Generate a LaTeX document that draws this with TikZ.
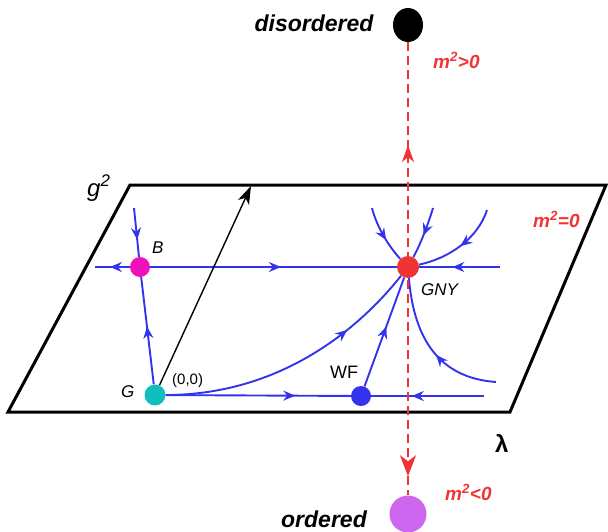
\documentclass[tikz,border=0pt]{standalone}
\usepackage{fontspec}
\setmainfont{Liberation Sans}
\usetikzlibrary{arrows.meta,decorations.markings,shapes.geometric,backgrounds}
\definecolor{fblue}{RGB}{51,51,238}
\definecolor{cR}{RGB}{240,52,52}
\definecolor{cB}{RGB}{238,17,187}
\definecolor{cG}{RGB}{17,190,190}
\definecolor{cV}{RGB}{204,102,238}
\newcommand\myfs[1]{\fontsize{#1}{#1}\selectfont}
\tikzset{
  flow/.style={draw=fblue, line width=1.9pt},
  marr/.style={postaction={decorate,decoration={markings,mark=at position #1 with {\arrow{Stealth[length=12pt,width=10pt,inset=4pt]}}}}},
  dot/.style={circle, inner sep=0pt, minimum size=#1},
  plane/.style={draw=black, line width=3pt},
  lbl/.style={inner sep=0pt, font=\myfs{#1}},
  mlbl/.style={inner sep=0pt, text=cR, font=\myfs{19}\bfseries\itshape, anchor=base west}
}
\begin{document}
\begin{tikzpicture}[x=1pt,y=-1pt]
\useasboundingbox (0,0) rectangle (608,531);
% dots
\node[dot=20pt, fill=cB] (B) at (140,267) {};
\node[dot=21pt, fill=cG] (G) at (155,395) {};
\node[dot=22pt, fill=cR] (GNY) at (408,267) {};
\node[dot=20pt, fill=fblue] (WF) at (361,396) {};
\node[ellipse, minimum width=30pt, minimum height=34pt, inner sep=0pt, fill=black] (dis) at (408,25) {};
\node[dot=37pt, fill=cV] (ord) at (408,514) {};
% coordinates
\coordinate (pA) at (8,412);
\coordinate (pB) at (130,185);
\coordinate (pC) at (606,185);
\coordinate (pD) at (510,412);
\coordinate (bl) at (95,267);
\coordinate (bt) at (134,208);
\coordinate (gr) at (500,267);
\coordinate (wr) at (484,396);
\coordinate (t1) at (372,208);
\coordinate (t2) at (433,208);
\coordinate (t3) at (487,210);
\coordinate (br) at (496,382);
\coordinate (ar) at (251,186);
\begin{pgfonlayer}{background}
\draw[plane] (pA) -- (pB) -- (pC) -- (pD) -- cycle;
\draw[flow, marr=0.65] (bt) -- (B);
\draw[flow, marr=0.57] (B) -- (bl);
\draw[flow, marr=0.53] (B) -- (GNY);
\draw[flow, marr=0.59] (gr) -- (GNY);
\draw[flow, marr=0.54] (G) -- (B);
\draw[flow, marr=0.7] (G) -- (WF);
\draw[flow, marr=0.64] (wr) -- (WF);
\draw[flow, marr=0.55] (WF) -- (GNY);
\draw[flow, marr=0.72] (G) .. controls (270,395) and (350,340) .. (GNY);
\draw[flow, marr=0.6] (t1) .. controls (377,228) and (390,248) .. (GNY);
\draw[flow, marr=0.55] (t2) .. controls (428,225) and (420,245) .. (GNY);
\draw[flow, marr=0.5] (t3) .. controls (478,238) and (450,258) .. (GNY);
\draw[flow, marr=0.45] (br) .. controls (440,378) and (414,340) .. (GNY);
\draw[line width=1.4pt, -{Stealth[length=18pt,width=12pt,inset=5pt]}] (G) -- (ar);
\draw[draw=cR, line width=2.2pt, dash pattern=on 9pt off 5pt,
  postaction={decorate, decoration={markings,
    mark=at position 0.227 with {\arrowreversed{Stealth[length=17pt,width=12pt,inset=5pt]}},
    mark=at position 0.958 with {\arrow{Stealth[length=21pt,width=16pt,inset=6pt]}}}}] (dis) -- (ord);
\end{pgfonlayer}
% labels
\node[lbl=23, font=\myfs{23}\bfseries\itshape, anchor=base] (tdis) at (314,31.5) {disordered};
\node[lbl=23, font=\myfs{23}\bfseries\itshape, anchor=base] (tord) at (324,527) {ordered};
\node[mlbl] (mgt) at (433,68) {m\textsuperscript{2}>0};
\node[mlbl] (meq) at (533,227) {m\textsuperscript{2}=0};
\node[mlbl] (mlt) at (445,500) {m\textsuperscript{2}<0};
\node[lbl=24, font=\myfs{24}\itshape, anchor=base west] (tg2) at (87,196) {g\textsuperscript{2}};
\node[lbl=16, font=\myfs{17}\itshape, anchor=base west] (tB) at (152,253) {B};
\node[lbl=16, font=\myfs{17}\itshape, anchor=base west] (tG) at (121,397) {G};
\node[lbl=15, anchor=base west] (t00) at (172,384) {(0,0)};
\node[lbl=18, anchor=base west] (tWF) at (330,378) {WF};
\node[lbl=17, font=\myfs{17}\itshape, anchor=base west] (tGNY) at (421,295) {GNY};
\node[lbl=24, font=\myfs{24}\bfseries, anchor=base west] (tlam) at (495,452) {λ};
\end{tikzpicture}
\end{document}
